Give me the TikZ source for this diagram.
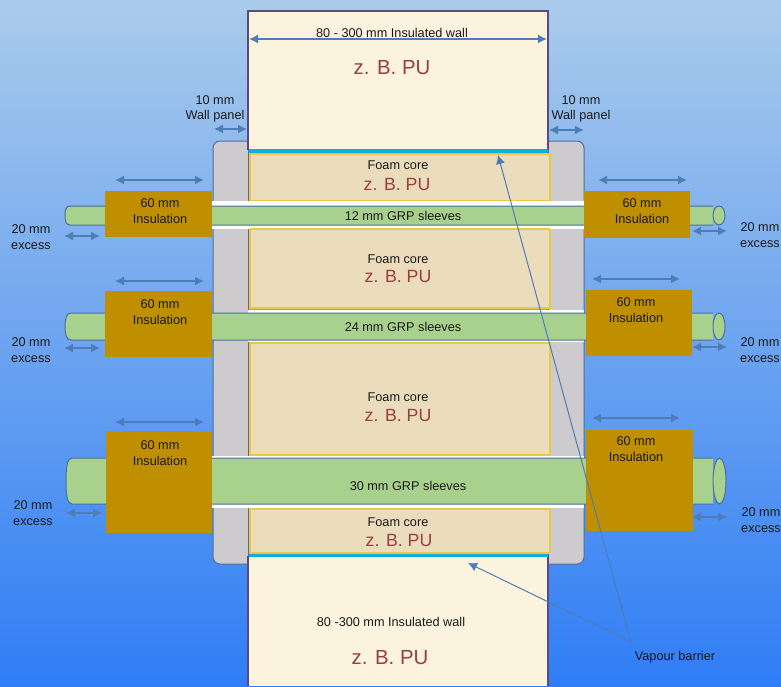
\documentclass[tikz,border=0pt]{standalone}
\usepackage{fontspec}
\setmainfont{Liberation Sans}
\usetikzlibrary{arrows.meta}
\definecolor{wallfill}{HTML}{FCF3DF}
\definecolor{wallline}{HTML}{5B4A80}
\definecolor{barrier}{HTML}{10ACDE}
\definecolor{foamfill}{HTML}{EBDCBC}
\definecolor{foamline}{HTML}{EBC744}
\definecolor{panelfill}{HTML}{CDCBCD}
\definecolor{blueline}{HTML}{4A6E9E}
\definecolor{sleevefill}{HTML}{A9D18E}
\definecolor{insulfill}{HTML}{BF8F00}
\definecolor{dimline}{HTML}{4E7DB6}
\definecolor{pulabel}{HTML}{9A3F3F}
\tikzset{
  wall/.style={fill=wallfill,draw=wallline,line width=2.4pt},
  vapourbar/.style={fill=barrier},
  foam/.style={fill=foamfill,draw=foamline,line width=2pt},
  panel/.style={fill=panelfill,draw=blueline,line width=1pt,rounded corners=7pt},
  gap/.style={fill=white},
  sleeve/.style={fill=sleevefill,draw=blueline,line width=1pt},
  insul/.style={fill=insulfill},
  dim/.style={<->,draw=dimline,line width=1.5pt},
  leader/.style={draw=dimline,line width=1pt},
  lab/.style={font=\fontsize{12.7}{15.5}\selectfont,align=center,text=black!90},
  pu/.style={font=\fontsize{20.4}{24}\selectfont,text=pulabel},
  pusmall/.style={font=\fontsize{17.7}{21}\selectfont,text=pulabel}
}

\begin{document}
\begin{tikzpicture}[>={Latex[length=9pt,width=9pt]},x=1pt,y=-1pt]
\useasboundingbox (0,0) rectangle (781,686);
\shade[top color={rgb,255:red,170;green,203;blue,235},middle color={rgb,255:red,118;green,170;blue,236},bottom color={rgb,255:red,47;green,125;blue,246}] (0,0) rectangle (781,686);

% wall panels
\draw[panel] (248,141)--(213,141)--(213,564)--(248,564);
\draw[panel] (548,141)--(584,141)--(584,564)--(548,564);
\fill[panelfill] (230,142) rectangle (248,563);
\fill[panelfill] (548,142) rectangle (570,563);
\draw[blueline,line width=1pt] (248,150)--(248,556);
\draw[blueline,line width=1pt] (548,150)--(548,556);

% insulated wall
\fill[wallfill] (248,11) rectangle (548,150);
\draw[wall] (248,150)--(248,11)--(548,11)--(548,150);
\fill[wallfill] (248,556) rectangle (548,686);
\draw[wall] (248,686)--(248,556);
\draw[wall] (548,686)--(548,556);
\fill[vapourbar] (249,149) rectangle (548,153);
\fill[vapourbar] (249,553) rectangle (548,557);

% foam cores
\draw[foam] (250,154) rectangle (550,201);
\draw[foam] (250,229) rectangle (550,308);
\draw[foam] (250,343) rectangle (550,455);
\draw[foam] (250,509) rectangle (550,553);

% gaps round the sleeves
\fill[gap] (212,201) rectangle (584,229);
\fill[gap] (248,310) rectangle (584,342);
\fill[gap] (212,456) rectangle (584,508);
\draw[foam] (250,229) -- (550,229);
\draw[foam] (250,343) -- (550,343);
\draw[foam] (250,509) -- (550,509);

% sleeves
\draw[sleeve] (713,206)--(70,206) .. controls (66,206) and (65,210) .. (65,215.5) .. controls (65,221) and (66,225) .. (70,225)--(713,225);
\draw[sleeve] (719,215.5) ellipse (6 and 9.5);
\draw[sleeve] (713,313)--(71,313) .. controls (66,313) and (65,320) .. (65,326.5) .. controls (65,333) and (66,340) .. (71,340)--(713,340);
\draw[sleeve] (719,326.5) ellipse (6 and 13.5);
\draw[sleeve] (713,458)--(72,458) .. controls (67,458) and (66,468) .. (66,481) .. controls (66,494) and (67,504) .. (72,504)--(713,504);
\draw[sleeve] (719.5,481) ellipse (6.5 and 23);

% insulation
\fill[insul] (105,191) rectangle (212,237);
\fill[insul] (105,291) rectangle (212,357);
\fill[insul] (106,431) rectangle (212,533);
\fill[insul] (584,191) rectangle (690,238);
\fill[insul] (586,290) rectangle (692,356);
\fill[insul] (586,430) rectangle (693,531);

% dimensions
\draw[dim] (249,39)--(547,39);
\draw[dim] (214,129)--(247,129);
\draw[dim] (549,130)--(584,130);
\draw[dim] (115,180)--(204,180);
\draw[dim] (115,281)--(204,281);
\draw[dim] (115,422)--(204,422);
\draw[dim] (598,180)--(687,180);
\draw[dim] (592,279)--(680,279);
\draw[dim] (592,418)--(680,418);
\draw[dim] (64,236)--(100,236);
\draw[dim] (64,348)--(100,348);
\draw[dim] (66,513)--(102,513);
\draw[dim] (692,231)--(727,231);
\draw[dim] (692,347)--(727,347);
\draw[dim] (692,517)--(727,517);

% vapour barrier
\coordinate (vapourtip) at (631,642);
\coordinate (barriertop) at (498,155);
\coordinate (barrierbot) at (468,563);
\draw[leader,->] (vapourtip)--(barriertop);
\draw[leader,->] (vapourtip)--(barrierbot);
\node (vapour) at (675,657) [lab] {Vapour barrier};

% labels
\node (walltop) at (392,33) [lab] {80 - 300 mm Insulated wall};
\node (wallbot) at (391,622) [lab] {80 -300 mm Insulated wall};
\node (putop) at (392,68) [pu] {z. B. PU};
\node (pubot) at (390,658) [pu] {z. B. PU};
\node (panelleft) at (215,109) [lab] {10 mm\\Wall panel};
\node (panelright) at (581,109) [lab] {10 mm\\Wall panel};

\node (foama) at (398,165) [lab] {Foam core};
\node (foamb) at (398,259) [lab] {Foam core};
\node (foamc) at (398,397) [lab] {Foam core};
\node (foamd) at (398,522) [lab] {Foam core};
\node (pua) at (397,184) [pusmall] {z. B. PU};
\node (pub) at (398,276) [pusmall] {z. B. PU};
\node (puc) at (398,415) [pusmall] {z. B. PU};
\node (pud) at (399,540) [pusmall] {z. B. PU};

\node (sleevea) at (403,216) [lab] {12 mm GRP sleeves};
\node (sleeveb) at (403,327) [lab] {24 mm GRP sleeves};
\node (sleevec) at (408,486) [lab] {30 mm GRP sleeves};

\node (insula) at (160,211) [lab] {60 mm\\Insulation};
\node (insulb) at (160,312) [lab] {60 mm\\Insulation};
\node (insulc) at (160,453) [lab] {60 mm\\Insulation};
\node (insuld) at (642,211) [lab] {60 mm\\Insulation};
\node (insule) at (636,310) [lab] {60 mm\\Insulation};
\node (insulf) at (636,449) [lab] {60 mm\\Insulation};

\node (excessa) at (31,237) [lab] {20 mm\\excess};
\node (excessb) at (31,350) [lab] {20 mm\\excess};
\node (excessc) at (33,513) [lab] {20 mm\\excess};
\node (excessd) at (760,235) [lab] {20 mm\\excess};
\node (excesse) at (760,350) [lab] {20 mm\\excess};
\node (excessf) at (761,520) [lab] {20 mm\\excess};

\end{tikzpicture}
\end{document}
